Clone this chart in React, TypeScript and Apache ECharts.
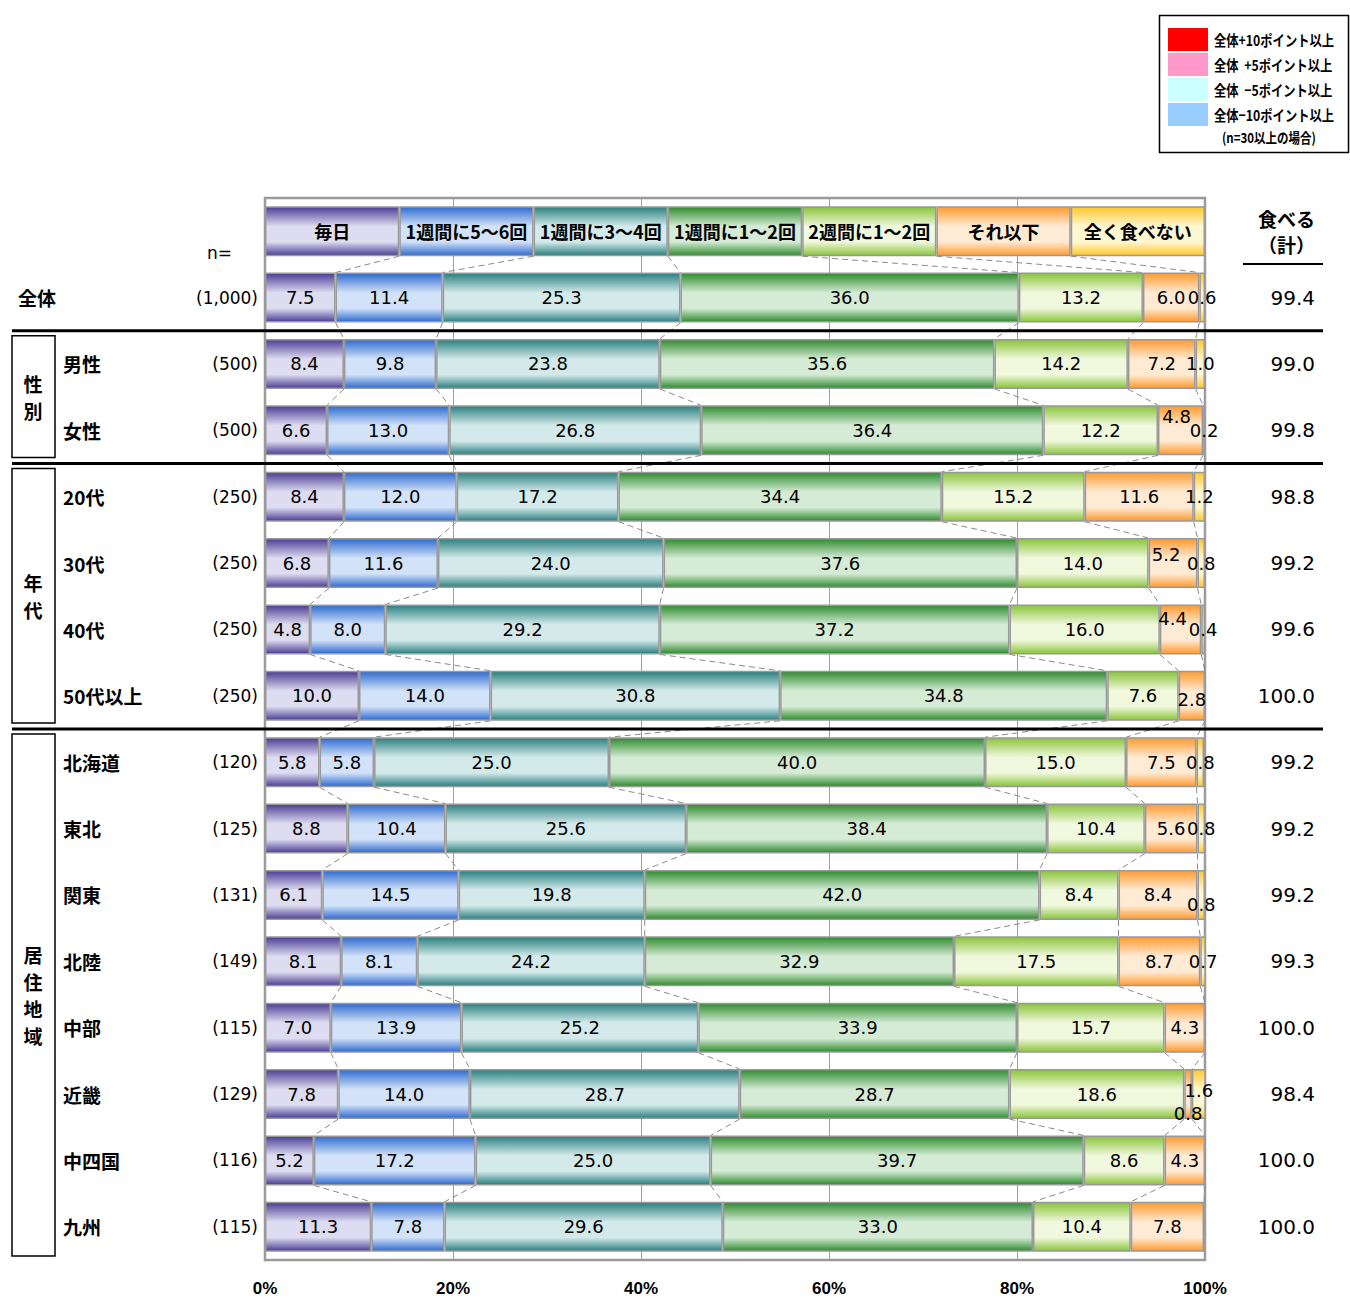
import React, { useEffect, useRef } from "react";
import * as echarts from "echarts";

const categories = ["毎日", "1週間に5～6回", "1週間に3～4回", "1週間に1～2回", "2週間に1～2回", "それ以下", "全く食べない"];
const rowLabels = ["全体", "男性", "女性", "20代", "30代", "40代", "50代以上", "北海道", "東北", "関東", "北陸", "中部", "近畿", "中四国", "九州"];
const sampleSizes = ["(1,000)", "(500)", "(500)", "(250)", "(250)", "(250)", "(250)", "(120)", "(125)", "(131)", "(149)", "(115)", "(129)", "(116)", "(115)"];
const daily = [7.5, 8.4, 6.6, 8.4, 6.8, 4.8, 10.0, 5.8, 8.8, 6.1, 8.1, 7.0, 7.8, 5.2, 11.3];
const week56 = [11.4, 9.8, 13.0, 12.0, 11.6, 8.0, 14.0, 5.8, 10.4, 14.5, 8.1, 13.9, 14.0, 17.2, 7.8];
const week34 = [25.3, 23.8, 26.8, 17.2, 24.0, 29.2, 30.8, 25.0, 25.6, 19.8, 24.2, 25.2, 28.7, 25.0, 29.6];
const week12 = [36.0, 35.6, 36.4, 34.4, 37.6, 37.2, 34.8, 40.0, 38.4, 42.0, 32.9, 33.9, 28.7, 39.7, 33.0];
const biweek12 = [13.2, 14.2, 12.2, 15.2, 14.0, 16.0, 7.6, 15.0, 10.4, 8.4, 17.5, 15.7, 18.6, 8.6, 10.4];
const lessOften = [6.0, 7.2, 4.8, 11.6, 5.2, 4.4, 2.8, 7.5, 5.6, 8.4, 8.7, 4.3, 0.8, 4.3, 7.8];
const never = [0.6, 1.0, 0.2, 1.2, 0.8, 0.4, 0, 0.8, 0.8, 0.8, 0.7, 0, 1.6, 0, 0];
const eatTotal = [99.4, 99.0, 99.8, 98.8, 99.2, 99.6, 100.0, 99.2, 99.2, 99.2, 99.3, 100.0, 98.4, 100.0, 100.0];
const xTicks = [0, 20, 40, 60, 80, 100];
const highlightLegend = ["全体+10ポイント以上", "全体  +5ポイント以上", "全体  −5ポイント以上", "全体−10ポイント以上"];

const seriesValues = [daily, week56, week34, week12, biweek12, lessOften, never];

// styling
const palette = [
  ["#4b3d96", "#dedcf0"],
  ["#2e6ad0", "#d2e2f8"],
  ["#2a7f7f", "#d4eaea"],
  ["#2e8b2e", "#d5ebd5"],
  ["#8ac43a", "#f0f8de"],
  ["#ff9a2e", "#ffead4"],
  ["#ffc82a", "#fff6d2"],
];
const highlightColors = ["#ff0000", "#ff99cc", "#ccffff", "#99ccff"];
// [row, series, dx, dy]
const labelNudges = [
  [2, 5, -4, -14],
  [4, 5, -7, -9],
  [5, 5, -8, -11],
  [6, 5, 0, 4],
  [9, 6, 0, 10],
  [12, 5, 0, 19],
  [12, 6, 0, -4],
];

const NUM = "'DejaVu Sans', 'Noto Sans CJK JP', sans-serif";
const FONT = "'Liberation Sans', 'Noto Sans CJK JP', sans-serif";
const JP = "'Noto Sans CJK JP', sans-serif";
const G = { left: 265, top: 198, width: 940, height: 1062 };
const NROWS = rowLabels.length + 1;
const ROWH = G.height / NROWS;
const BARW = 50;

function grad(dark: string, light: string) {
  return new echarts.graphic.LinearGradient(0, 0, 0, 1, [
    { offset: 0, color: dark },
    { offset: 0.4, color: light },
    { offset: 0.72, color: light },
    { offset: 1, color: dark },
  ]);
}

export default function App() {
  const ref = useRef<HTMLDivElement>(null);
  useEffect(() => {
    const chart = echarts.init(ref.current!, null, { renderer: "svg" });
    const yCats = ["", ...rowLabels];

    // cumulative boundaries per axis row (0 = header)
    const cum: number[][] = [];
    cum.push(categories.map((_, k) => ((k + 1) * 100) / categories.length));
    rowLabels.forEach((_, r) => {
      let s = 0;
      cum.push(seriesValues.map((arr) => (s += arr[r])));
    });

    const barSeries = seriesValues.map((arr, si) => ({
      type: "bar",
      name: categories[si],
      stack: "all",
      barWidth: BARW,
      yAxisIndex: 0,
      z: 3,
      itemStyle: { color: grad(palette[si][0], palette[si][1]), borderColor: "#999", borderWidth: 1.5 },
      label: {
        show: true,
        position: "inside",
        color: "#000",
        fontSize: 18,
        fontFamily: NUM,
        formatter: (p: any) => (p.value > 0 ? Number(p.value).toFixed(1) : ""),
      },
      data: [
        {
          value: 100 / categories.length,
          label: {
            formatter: categories[si],
            fontWeight: "bold",
            fontSize: 18,
            fontFamily: JP,
          },
        },
        ...arr.map((v, r) => {
          const n = labelNudges.find((q) => q[0] === r && q[1] === si);
          return n ? { value: v, label: { offset: [n[2], n[3]] } } : { value: v };
        }),
      ],
    }));

    const linkSeries = {
      type: "custom",
      coordinateSystem: "cartesian2d",
      yAxisIndex: 0,
      z: 1,
      silent: true,
      encode: { x: 0, y: 1 },
      data: rowLabels.map((_, r) => [0, r]),
      renderItem: (params: any, api: any) => {
        const r = api.value(1);
        const a = cum[r];
        const b = cum[r + 1];
        const children: any[] = [];
        for (let k = 0; k < 6; k++) {
          const p1 = api.coord([a[k], r]);
          const p2 = api.coord([b[k], r + 1]);
          children.push({
            type: "line",
            shape: { x1: p1[0], y1: p1[1] + BARW / 2, x2: p2[0], y2: p2[1] - BARW / 2 },
            style: { stroke: "#8a8a8a", lineWidth: 1, lineDash: [6, 4] },
          });
        }
        return { type: "group", children };
      },
    };

    const sepRows = [1, 3, 7];
    const boundary = (i: number) => G.top + ROWH * (i + 1);
    const graphics: any[] = [];
    sepRows.forEach((i) => {
      graphics.push({
        type: "line",
        z: 100,
        shape: { x1: 12, y1: boundary(i), x2: 1323, y2: boundary(i) },
        style: { stroke: "#000", lineWidth: 3 },
      });
    });
    const groups = [
      { text: "性\n別", from: 1, to: 3 },
      { text: "年\n代", from: 3, to: 7 },
      { text: "居\n住\n地\n域", from: 7, to: 15 },
    ];
    groups.forEach((g) => {
      const y1 = boundary(g.from) + 5;
      const y2 = g.to === 15 ? G.top + G.height - 4 : boundary(g.to) - 6;
      graphics.push({
        type: "rect",
        z: 100,
        shape: { x: 12, y: y1, width: 43, height: y2 - y1 },
        style: { fill: "none", stroke: "#000", lineWidth: 1.5 },
      });
      graphics.push({
        type: "text",
        z: 100,
        x: 33,
        y: (y1 + y2) / 2,
        style: {
          text: g.text,
          fontSize: 19,
          fontWeight: "bold",
          fontFamily: JP,
          fill: "#000",
          align: "center",
          verticalAlign: "middle",
          lineHeight: 27,
        },
      });
    });
    graphics.push({
      type: "text",
      x: 232,
      y: 253,
      style: { text: "n=", fontSize: 17, fontFamily: NUM, fill: "#000", align: "right", verticalAlign: "middle" },
    });
    graphics.push({
      type: "line",
      shape: { x1: 1243, y1: 264, x2: 1323, y2: 264 },
      style: { stroke: "#000", lineWidth: 2 },
    });
    // highlight legend box
    graphics.push({
      type: "rect",
      shape: { x: 1159.5, y: 15.5, width: 189, height: 137 },
      style: { fill: "#fff", stroke: "#000", lineWidth: 1.5 },
    });
    const swY = [28, 53, 78, 103];
    highlightLegend.forEach((t, i) => {
      graphics.push({
        type: "rect",
        shape: { x: 1168, y: swY[i], width: 40, height: 23 },
        style: { fill: highlightColors[i] },
      });
      graphics.push({
        type: "text",
        x: 1214,
        y: swY[i] + 11.5,
        scaleX: 0.82,
        style: { text: t, fontSize: 15, fontWeight: "bold", fontFamily: JP, fill: "#000", verticalAlign: "middle" },
      });
    });
    graphics.push({
      type: "text",
      x: 1222,
      y: 137,
      scaleX: 0.82,
      style: { text: "(n=30以上の場合)", fontSize: 14, fontWeight: "bold", fontFamily: JP, fill: "#000", verticalAlign: "middle" },
    });

    const option: any = {
      animation: false,
      backgroundColor: "#fff",
      grid: {
        left: G.left,
        top: G.top,
        width: G.width,
        height: G.height,
        show: true,
        borderColor: "#999",
        borderWidth: 2.5,
        backgroundColor: "transparent",
      },
      xAxis: {
        type: "value",
        min: xTicks[0],
        max: xTicks[xTicks.length - 1],
        interval: xTicks[1] - xTicks[0],
        axisLine: { show: false },
        axisTick: { show: false },
        splitLine: { show: true, lineStyle: { color: "#a0a0a0", width: 1 } },
        axisLabel: {
          margin: 20,
          fontSize: 17,
          fontWeight: "bold",
          fontFamily: FONT,
          color: "#000",
          formatter: "{value}%",
          showMinLabel: true,
          showMaxLabel: true,
        },
      },
      yAxis: [
        {
          type: "category",
          data: yCats,
          inverse: true,
          axisLine: { show: false },
          axisTick: { show: false },
          axisLabel: {
            align: "left",
            margin: G.left - 18,
            formatter: (v: string, i: number) => (i === 0 ? "" : i === 1 ? `{a|${v}}` : `{b|${v}}`),
            rich: {
              a: { fontSize: 19, fontWeight: "bold", fontFamily: JP, color: "#000" },
              b: { fontSize: 19, fontWeight: "bold", fontFamily: JP, color: "#000", padding: [0, 0, 0, 45] },
            },
          },
        },
        {
          type: "category",
          data: yCats,
          inverse: true,
          position: "left",
          axisLine: { show: false },
          axisTick: { show: false },
          axisLabel: {
            margin: 7,
            fontSize: 17,
            fontFamily: NUM,
            color: "#000",
            formatter: (_v: string, i: number) => (i === 0 ? "" : sampleSizes[i - 1]),
          },
        },
        {
          type: "category",
          data: yCats,
          inverse: true,
          position: "right",
          axisLine: { show: false },
          axisTick: { show: false },
          axisLabel: {
            align: "right",
            margin: 110,
            formatter: (_v: string, i: number) =>
              i === 0 ? "{h|食べる}\n{h|（計）}" : `{v|${eatTotal[i - 1].toFixed(1)}}`,
            rich: {
              h: { fontSize: 19, fontWeight: "bold", fontFamily: JP, color: "#000", lineHeight: 26 },
              v: { fontSize: 20, fontFamily: NUM, color: "#000" },
            },
          },
        },
      ],
      series: [linkSeries, ...barSeries],
      graphic: graphics,
    };
    chart.setOption(option);
    return () => chart.dispose();
  }, []);
  return <div ref={ref} style={{ position: "absolute", left: 0, top: 0, width: 1350, height: 1298 }} />;
}
